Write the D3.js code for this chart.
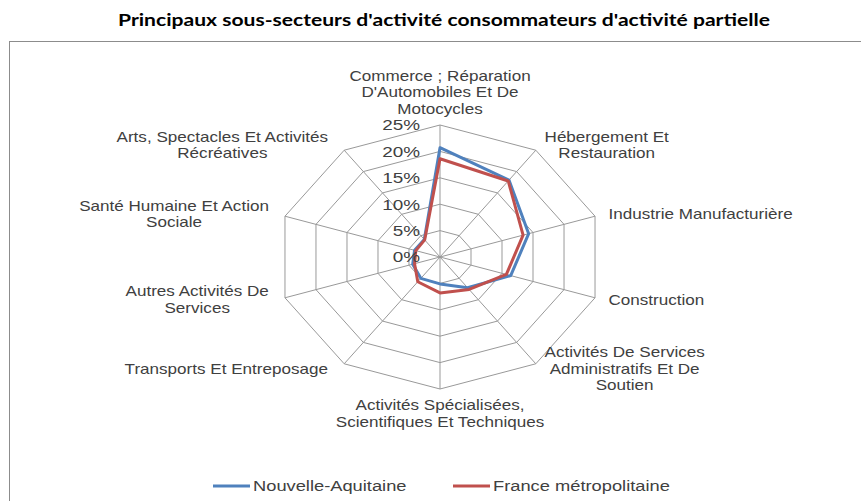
<!DOCTYPE html>
<html>
<head>
<meta charset="utf-8">
<script src="https://cdn.jsdelivr.net/npm/d3@7"></script>
<style>
  html, body { margin: 0; padding: 0; background: #fff; }
  svg { display: block; }
  text { font-family: "Liberation Sans", Arial, sans-serif; }
  .title { font-family: Lato, "Liberation Sans", sans-serif; }
</style>
</head>
<body>
<svg id="chart" width="861" height="501"></svg>
<script>
// Sub-sectors (axes of the radar), clockwise from the top. "\n" marks a line break.
const categories = [
  "Commerce ; Réparation\nD'Automobiles Et De\nMotocycles",
  "Hébergement Et\nRestauration",
  "Industrie Manufacturière",
  "Construction",
  "Activités De Services\nAdministratifs Et De\nSoutien",
  "Activités Spécialisées,\nScientifiques Et Techniques",
  "Transports Et Entreposage",
  "Autres Activités De\nServices",
  "Santé Humaine Et Action\nSociale",
  "Arts, Spectacles Et Activités\nRécréatives"
];

// Share of partial-activity use per sub-sector
const nouvelleAquitaine = [0.207, 0.180, 0.143, 0.114, 0.072, 0.051, 0.050, 0.044, 0.041, 0.041];
const franceMetropolitaine = [0.186, 0.178, 0.134, 0.107, 0.076, 0.068, 0.058, 0.041, 0.039, 0.040];

const seriesNames = ["Nouvelle-Aquitaine", "France métropolitaine"];
const seriesColors = ["#4F81BD", "#C0504D"];

const tickValues = [0, 0.05, 0.10, 0.15, 0.20, 0.25];
const tickLabels = ["0%", "5%", "10%", "15%", "20%", "25%"];

const title = "Principaux sous-secteurs d'activité consommateurs d'activité partielle";

// ---- layout ----
const svg = d3.select("#chart");
const cx = 440, cy = 257;
const sx = 1.22;            // horizontal stretch of the plot and its text
const rMaxY = 132, rMaxX = 163;

const rY = d3.scaleLinear().domain([0, 0.25]).range([0, rMaxY]);
const rX = d3.scaleLinear().domain([0, 0.25]).range([0, rMaxX]);
const angle = d3.scaleLinear().domain([0, categories.length]).range([0, 2 * Math.PI]);

const pt = (i, v) => [cx + rX(v) * Math.sin(angle(i)), cy - rY(v) * Math.cos(angle(i))];

// title
svg.append("text")
  .attr("class", "title")
  .attr("x", 444).attr("y", 26)
  .attr("text-anchor", "middle")
  .attr("font-weight", "bold")
  .attr("font-size", 17)
  .attr("fill", "#000")
  .attr("textLength", 652)
  .attr("lengthAdjust", "spacingAndGlyphs")
  .text(title);

// chart frame
svg.append("rect")
  .attr("x", 9.5).attr("y", 41.5)
  .attr("width", 900).attr("height", 500)
  .attr("fill", "none").attr("stroke", "#8c8c8c").attr("stroke-width", 1);

const idx = d3.range(categories.length);

// grid rings
const ringLine = d3.line().curve(d3.curveLinearClosed);
svg.append("g").selectAll("path")
  .data(tickValues.filter(v => v > 0))
  .join("path")
  .attr("d", v => ringLine(idx.map(i => pt(i, v))))
  .attr("fill", "none").attr("stroke", "#999").attr("stroke-width", 1);

// spokes
svg.append("g").selectAll("line")
  .data(idx)
  .join("line")
  .attr("x1", cx).attr("y1", cy)
  .attr("x2", i => pt(i, 0.25)[0]).attr("y2", i => pt(i, 0.25)[1])
  .attr("stroke", "#999").attr("stroke-width", 1);

// series polygons
const series = [nouvelleAquitaine, franceMetropolitaine];
svg.append("g").selectAll("path")
  .data(series)
  .join("path")
  .attr("d", s => ringLine(s.map((v, i) => pt(i, v))))
  .attr("fill", "none")
  .attr("stroke", (s, k) => seriesColors[k])
  .attr("stroke-width", 3)
  .attr("stroke-linejoin", "round");

// tick labels on the vertical axis
svg.append("g").selectAll("text")
  .data(tickValues)
  .join("text")
  .attr("transform", v => `translate(${cx - 20},${cy - rY(v)}) scale(${sx},1)`)
  .attr("text-anchor", "end")
  .attr("dy", "0.35em")
  .attr("font-size", 15.5)
  .attr("fill", "#404040")
  .text((v, i) => tickLabels[i]);

// category labels
const lh = 16.5;
const labelG = svg.append("g");
categories.forEach((label, i) => {
  const lines = label.split("\n");
  const n = lines.length;
  const a = angle(i);
  const s = Math.sin(a), c = Math.cos(a);
  const [vx, vy] = pt(i, 0.25);

  const g = labelG.append("g");
  const t = g.append("text")
    .attr("text-anchor", "middle")
    .attr("font-size", 14)
    .attr("fill", "#404040");
  lines.forEach((ln, k) => {
    t.append("tspan")
      .attr("x", 0)
      .attr("y", (k - (n - 1) / 2) * lh)
      .attr("dy", "0.35em")
      .text(ln);
  });
  const w = t.node().getBBox().width * sx;

  let lx, ly;
  if (Math.abs(s) < 0.01) {
    lx = vx;
    ly = c > 0 ? vy - 8 - n * lh / 2 : vy + 8 + n * lh / 2;
  } else if (s > 0) {
    lx = vx + 1 + 13 * s + w / 2;
    ly = vy - c * 6;
  } else {
    lx = vx - 16 - w / 2;
    ly = vy - c * 6;
  }
  g.attr("transform", `translate(${lx},${ly}) scale(${sx},1)`);
});

// legend
const legendX = [213, 453];
const legendY = 486;
const legend = svg.append("g").selectAll("g")
  .data(seriesNames)
  .join("g");
legend.append("line")
  .attr("x1", (d, k) => legendX[k]).attr("x2", (d, k) => legendX[k] + 37)
  .attr("y1", legendY).attr("y2", legendY)
  .attr("stroke", (d, k) => seriesColors[k]).attr("stroke-width", 3);
legend.append("text")
  .attr("transform", (d, k) => `translate(${legendX[k] + 40},${legendY}) scale(${sx},1)`)
  .attr("dy", "0.35em")
  .attr("font-size", 15)
  .attr("fill", "#404040")
  .text(d => d);
</script>
</body>
</html>
